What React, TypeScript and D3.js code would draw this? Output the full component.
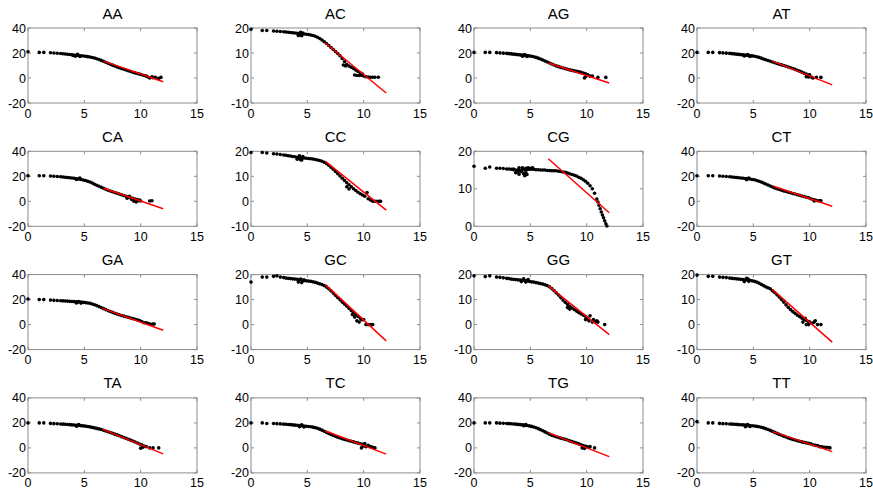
import React from "react";
import * as d3 from "d3";

// shared x positions of the dense part of every curve
const xGrid = [0, 1, 1.4, 2, 2.3, 2.6, 2.9, 3.1, 3.3, 3.5, 3.7, 3.9, 4.1, 4.3, 4.5, 4.7, 4.9, 5.1, 5.3, 5.5, 5.7, 5.9, 6.1, 6.3, 6.5, 6.7, 6.9, 7.1, 7.3, 7.5, 7.7, 7.9, 8.1, 8.3, 8.5, 8.7, 8.9, 9.1, 9.3, 9.5, 9.7, 9.9];
const xTicks = [0, 5, 10, 15];

const AA_y = [21, 20.5, 20.5, 20.2, 20, 19.8, 19.6, 19.4, 19.2, 19, 18.8, 18.6, 18.4, 18.2, 18, 17.8, 17.6, 17.4, 17.1, 16.8, 16.4, 16, 15.4, 14.8, 14.1, 13.4, 12.6, 11.8, 11, 10.3, 9.6, 8.9, 8.2, 7.6, 7, 6.4, 5.8, 5.2, 4.6, 4.1, 3.6, 3.1];
const AA_extra = [[4.2, 17.5], [4.4, 19], [4.6, 17.2], [4.0, 18], [10.1, 2.6], [10.3, 2], [10.5, 1.5], [10.6, 1], [10.8, 0], [11.0, 1], [11.1, 0.3], [11.3, 0.5], [11.6, -0.3], [11.8, 0.5]];
const AA_fit = [[6.7, 13.5], [12, -3]];

const AC_y = [19.5, 19, 19, 18.8, 18.7, 18.6, 18.5, 18.4, 18.3, 18.2, 18.1, 18, 17.9, 17.8, 17.7, 17.6, 17.5, 17.4, 17.2, 17, 16.7, 16.3, 15.8, 15.2, 14.5, 13.8, 13, 12.2, 11.4, 10.6, 9.8, 8.9, 7.8, 6.6, 5.5, 4.8, 4.3, 3.8, 3.2, 2.6, 2.1, 1.6];
const AC_extra = [[4.2, 17], [4.4, 18.3], [4.5, 16.9], [4.6, 18], [4.3, 17.2], [8.2, 5.2], [8.4, 4.8], [9.2, 1.2], [9.4, 1], [9.6, 1], [9.8, 1.1], [10, 0.8], [10.2, 0.5], [10.4, 0.4], [10.6, 0.3], [10.8, 0.3], [11, 0.3], [11.3, 0.3]];
const AC_fit = [[6.6, 14], [12, -6]];

const AG_y = [20.5, 20.5, 20.5, 20.3, 20.1, 19.9, 19.7, 19.5, 19.3, 19.1, 18.9, 18.7, 18.5, 18.3, 18.1, 17.9, 17.7, 17.4, 17, 16.5, 15.9, 15.2, 14.4, 13.6, 12.8, 12, 11.2, 10.4, 9.7, 9.1, 8.5, 8, 7.5, 7, 6.5, 6.1, 5.7, 5.3, 4.9, 4.5, 4, 3.3];
const AG_extra = [[4.3, 17.5], [4.5, 18.8], [4.7, 17.3], [9.4, 4.5], [9.8, 0], [9.9, 1], [10.1, 2.5], [10.3, 1.5], [10.5, 1.5], [11, 0.5], [11.7, 0.5]];
const AG_fit = [[6.6, 12], [12, -4]];

const AT_y = [20.5, 20.5, 20.5, 20.3, 20.1, 19.9, 19.7, 19.5, 19.3, 19.1, 18.9, 18.7, 18.5, 18.3, 18.1, 17.9, 17.7, 17.4, 17, 16.5, 15.9, 15.2, 14.6, 14, 13.4, 12.8, 12.2, 11.6, 11, 10.5, 10, 9.4, 8.8, 8.2, 7.6, 6.9, 6.2, 5.5, 4.7, 3.9, 3.1, 2.4];
const AT_extra = [[4.2, 17.6], [4.5, 18.8], [4.7, 17.3], [9.7, 1], [9.9, 0.8], [10, 2.5], [10.2, 0.5], [10.3, 0], [10.6, 0.5], [11, 0.5]];
const AT_fit = [[6.7, 13.5], [12, -5.5]];

const CA_y = [20.5, 20.5, 20.5, 20.2, 20, 19.8, 19.6, 19.4, 19.2, 19, 18.8, 18.6, 18.4, 18.1, 17.8, 17.5, 17.1, 16.6, 16.1, 15.4, 14.6, 13.7, 12.8, 12, 11.2, 10.4, 9.6, 8.9, 8.3, 7.7, 7.1, 6.5, 5.9, 5.3, 4.7, 4.1, 3.5, 2.9, 2.4, 1.9, 1.4, 1.0];
const CA_extra = [[4.3, 17.4], [4.6, 18.6], [8.8, 2.5], [9.0, 4], [9.2, 1.5], [9.4, 0], [9.6, -0.5], [9.8, 0.5], [10, 0.2], [10.8, 0.3], [11, 0.5]];
const CA_fit = [[6.7, 10.5], [12, -6]];

const CC_y = [19.5, 19.5, 19.3, 19, 18.9, 18.7, 18.5, 18.4, 18.2, 18.1, 17.9, 17.8, 17.6, 17.5, 17.4, 17.3, 17.2, 17.1, 17, 16.9, 16.7, 16.5, 16.3, 16, 15.6, 15.1, 14.4, 13.6, 12.8, 11.9, 11, 10.1, 9.2, 8.3, 7.4, 6.6, 5.8, 5, 4.3, 3.6, 3, 2.5];
const CC_extra = [[4.1, 16.8], [4.3, 18.2], [4.4, 16.6], [4.6, 17.9], [4.5, 16.5], [8.5, 5.8], [8.7, 4.9], [10.1, 2], [10.3, 3.5], [10.4, 1], [10.6, 0.5], [10.8, 0], [11, 0], [11.2, 0], [11.4, 0], [11.5, 0]];
const CC_fit = [[6.6, 16], [12, -3.5]];

const CG_y = [16, 15.5, 15.8, 15.5, 15.5, 15.4, 15.3, 15.3, 15.2, 15.1, 15, 15, 14.9, 15, 15, 15.1, 15.2, 15.2, 15.2, 15.1, 15.1, 15, 15, 15, 14.9, 14.9, 14.8, 14.8, 14.8, 14.7, 14.6, 14.5, 14.4, 14.2, 14, 13.8, 13.6, 13.4, 13.1, 12.8, 12.4, 12];
const CG_extra = [[3.5, 15.3], [3.7, 14.3], [3.9, 14.5], [4.0, 13.9], [4.2, 14.6], [4.4, 14], [4.5, 13.5], [4.6, 14.3], [4.7, 13.8], [4.0, 15.6], [4.3, 15.6], [4.6, 15.5], [4.8, 15.6], [5.0, 15.5], [5.2, 15.6], [10.1, 11.5], [10.3, 10.8], [10.5, 10], [10.7, 8.8], [10.9, 7.3], [11.0, 6.5], [11.1, 5.6], [11.2, 4.7], [11.3, 3.8], [11.4, 3], [11.5, 2.3], [11.6, 1.5], [11.7, 0.7], [11.8, 0.1]];
const CG_fit = [[6.6, 18], [12, 3.6]];

const CT_y = [20.5, 20.5, 20.5, 20.2, 20, 19.8, 19.6, 19.4, 19.2, 19, 18.8, 18.6, 18.4, 18.2, 18, 17.8, 17.5, 17.2, 16.7, 16.1, 15.4, 14.6, 13.8, 13, 12.2, 11.4, 10.7, 10, 9.4, 8.8, 8.3, 7.8, 7.3, 6.8, 6.3, 5.8, 5.3, 4.8, 4.3, 3.8, 3.3, 2.8];
const CT_extra = [[4.4, 17.3], [4.6, 18.6], [10.1, 2], [10.3, 1.5], [10.5, 1], [10.7, 0.5], [10.9, 0.5], [11, 0.5], [10.4, 0.2]];
const CT_fit = [[6.8, 12], [12, -4]];

const GA_y = [20.5, 20, 20, 19.6, 19.4, 19.3, 19.1, 19, 18.9, 18.8, 18.6, 18.5, 18.4, 18.3, 18.1, 18, 17.8, 17.6, 17.3, 17, 16.5, 15.9, 15.2, 14.4, 13.6, 12.8, 12, 11.2, 10.5, 9.8, 9.1, 8.5, 7.9, 7.3, 6.8, 6.3, 5.8, 5.3, 4.8, 4.3, 3.8, 3.3];
const GA_extra = [[4.3, 17.3], [4.5, 18.5], [4.7, 17.2], [10.1, 2.5], [10.3, 1.5], [10.5, 1.5], [10.7, 0.8], [10.9, 0.3], [11.1, 0.5], [11.2, 0.5]];
const GA_fit = [[6.6, 13], [12, -4.5]];

const GC_y = [17, 19, 19, 19.3, 19.5, 19, 18.8, 18.6, 18.5, 18.4, 18.3, 18.2, 18.1, 17.9, 17.8, 17.6, 17.5, 17.4, 17.3, 17.1, 16.9, 16.6, 16.3, 16, 15.6, 15, 14.3, 13.5, 12.6, 11.7, 10.8, 9.9, 9, 8.2, 7.4, 6.5, 5.6, 4.8, 4, 3.3, 2.6, 2];
const GC_extra = [[4.2, 17], [4.4, 18.2], [4.5, 16.8], [4.7, 17.9], [9.0, 4], [9.2, 3], [9.4, 1.5], [9.6, 1], [9.8, 2], [10.0, 2], [10.2, 0], [10.4, 0], [10.6, 0], [10.8, 0]];
const GC_fit = [[6.6, 16], [12, -6.5]];

const GG_y = [19.5, 19.2, 19.5, 19, 18.9, 18.7, 18.5, 18.4, 18.2, 18.1, 18, 17.9, 17.8, 17.7, 17.6, 17.5, 17.3, 17.1, 17, 16.8, 16.6, 16.4, 16.2, 15.9, 15.6, 15.1, 14.4, 13.6, 12.7, 11.8, 10.8, 9.8, 8.9, 8.1, 7.3, 6.6, 6, 5.4, 4.8, 4.3, 3.8, 3.3];
const GG_extra = [[4.2, 17.2], [4.4, 18.3], [4.6, 17], [4.8, 18], [8.3, 6.8], [8.5, 6.2], [9.9, 2], [10.1, 2.5], [10.2, 1.5], [10.3, 3.5], [10.5, 1], [10.6, 2], [10.8, 1], [10.9, 1.5], [11.0, 1], [11.6, 0]];
const GG_fit = [[6.6, 15.5], [12, -4]];

const GT_y = [19.8, 19.3, 19.3, 19, 18.9, 18.8, 18.6, 18.5, 18.4, 18.3, 18.2, 18.1, 18, 17.9, 17.8, 17.7, 17.5, 17.3, 17, 16.6, 16.1, 15.6, 15.1, 14.7, 14.3, 13.5, 12.8, 11.9, 11, 10, 9, 7.9, 6.9, 6, 5.2, 4.5, 3.8, 3.2, 2.6, 2.1, 1.7, 1.2];
const GT_extra = [[4.2, 17.2], [4.4, 18.5], [4.6, 17.3], [4.5, 18.3], [9.4, 1], [9.6, 2.5], [9.7, 0], [9.9, 0], [10, 1], [10.2, 0.5], [10.4, 1], [10.5, 1.5], [10.7, 0], [11, 0]];
const GT_fit = [[6.7, 14], [12, -7]];

const TA_y = [20, 20, 20, 19.6, 19.4, 19.3, 19.1, 19, 18.9, 18.7, 18.6, 18.4, 18.3, 18.1, 18, 17.8, 17.6, 17.4, 17.1, 16.8, 16.4, 16, 15.6, 15.2, 14.7, 14.1, 13.5, 12.9, 12.3, 11.7, 11, 10.4, 9.7, 9, 8.3, 7.6, 6.9, 6.2, 5.5, 4.7, 3.9, 3.1];
const TA_extra = [[4.3, 17.3], [4.5, 18.6], [10.0, -0.2], [10.1, 2.5], [10.2, 0.5], [10.3, 1.5], [10.5, 1], [10.8, 0], [11.1, 0], [11.6, 0]];
const TA_fit = [[6.6, 15], [12, -4.8]];

const TC_y = [20, 20, 19.5, 19.5, 19.4, 19.2, 19, 18.9, 18.7, 18.6, 18.4, 18.2, 18.1, 17.9, 17.7, 17.5, 17.3, 17.1, 16.9, 16.6, 16.2, 15.7, 15, 14.2, 13.3, 12.4, 11.6, 10.8, 10, 9.3, 8.6, 8, 7.4, 6.8, 6.3, 5.8, 5.3, 4.8, 4.3, 3.8, 3.3, 2.9];
const TC_extra = [[4.3, 17], [4.5, 18.4], [4.7, 16.8], [9.8, 0], [10, 1.5], [10.1, 3.5], [10.2, 1], [10.4, 2], [10.6, 1], [10.8, 0.5], [11, 0]];
const TC_fit = [[6.6, 13.5], [12, -5]];

const TG_y = [20, 20, 20, 20, 19.8, 19.7, 19.5, 19.4, 19.3, 19.1, 19, 18.8, 18.6, 18.4, 18.2, 17.9, 17.6, 17.2, 16.7, 16.1, 15.4, 14.6, 13.7, 12.8, 11.9, 11, 10.2, 9.5, 8.9, 8.3, 7.8, 7.3, 6.8, 6.3, 5.6, 5, 4.4, 3.8, 3.2, 2.5, 1.8, 1.2];
const TG_extra = [[4.4, 17.8], [4.6, 18.6], [9.6, 0], [9.8, -0.5], [10, 1], [10.2, 0.5], [10.3, 1], [10.7, 0]];
const TG_fit = [[6.6, 12], [12, -7]];

const TT_y = [21, 20, 20, 19.6, 19.4, 19.3, 19.1, 19, 18.9, 18.8, 18.6, 18.5, 18.4, 18.2, 18, 17.9, 17.7, 17.5, 17.2, 16.9, 16.5, 16, 15.4, 14.7, 14, 13.2, 12.4, 11.6, 10.8, 10.1, 9.4, 8.7, 8, 7.4, 6.8, 6.3, 5.8, 5.3, 4.8, 4.4, 4, 3.6];
const TT_extra = [[4.3, 17], [4.5, 18.6], [4.7, 17.2], [10.1, 3.2], [10.3, 2.5], [10.5, 2], [10.7, 1.8], [10.9, 1], [11.1, 0.8], [11.3, 0.5], [11.5, 0.5], [11.7, 0.3], [11.8, 0]];
const TT_fit = [[6.7, 13], [12, -3]];

const wideTicks = [-20, 0, 20, 40];
const midTicks = [-10, 0, 10, 20];
const cgTicks = [0, 10, 20];

const panels = [
  { name: "AA", ticks: wideTicks, ys: AA_y, extra: AA_extra, fit: AA_fit },
  { name: "AC", ticks: midTicks, ys: AC_y, extra: AC_extra, fit: AC_fit },
  { name: "AG", ticks: wideTicks, ys: AG_y, extra: AG_extra, fit: AG_fit },
  { name: "AT", ticks: wideTicks, ys: AT_y, extra: AT_extra, fit: AT_fit },
  { name: "CA", ticks: wideTicks, ys: CA_y, extra: CA_extra, fit: CA_fit },
  { name: "CC", ticks: midTicks, ys: CC_y, extra: CC_extra, fit: CC_fit },
  { name: "CG", ticks: cgTicks, ys: CG_y, extra: CG_extra, fit: CG_fit },
  { name: "CT", ticks: wideTicks, ys: CT_y, extra: CT_extra, fit: CT_fit },
  { name: "GA", ticks: wideTicks, ys: GA_y, extra: GA_extra, fit: GA_fit },
  { name: "GC", ticks: midTicks, ys: GC_y, extra: GC_extra, fit: GC_fit },
  { name: "GG", ticks: midTicks, ys: GG_y, extra: GG_extra, fit: GG_fit },
  { name: "GT", ticks: midTicks, ys: GT_y, extra: GT_extra, fit: GT_fit },
  { name: "TA", ticks: wideTicks, ys: TA_y, extra: TA_extra, fit: TA_fit },
  { name: "TC", ticks: wideTicks, ys: TC_y, extra: TC_extra, fit: TC_fit },
  { name: "TG", ticks: wideTicks, ys: TG_y, extra: TG_extra, fit: TG_fit },
  { name: "TT", ticks: wideTicks, ys: TT_y, extra: TT_extra, fit: TT_fit },
];

const W = 873;
const H = 493;
const FONT = "'Liberation Sans', Arial, Helvetica, sans-serif";

function Panel({ p, i }: { p: any; i: number }) {
  const c = i % 4;
  const r = Math.floor(i / 4);
  const left = 28 + c * 223;
  const top = 28 + r * 123.3;
  const w = 169;
  const h = 75;
  const x = d3.scaleLinear().domain([0, 15]).range([left, left + w]);
  const t: number[] = p.ticks;
  const y = d3.scaleLinear().domain([t[0], t[t.length - 1]]).range([top + h, top]);
  const pts: number[][] = xGrid.map((xv, k) => [xv, p.ys[k]]).concat(p.extra);
  const line = d3.line<number[]>().x((d) => x(d[0])).y((d) => y(d[1]));
  const axisCol = "#8c8c8c";
  const tl = 3;
  return (
    <g>
      <text x={left + w / 2} y={top - 9.5} textAnchor="middle" fontSize={15} fontFamily={FONT} fill="#000">
        {p.name}
      </text>
      <rect x={left} y={top} width={w} height={h} fill="#fff" stroke={axisCol} strokeWidth={1} />
      {xTicks.map((v) => (
        <g key={"x" + v}>
          <line x1={x(v)} x2={x(v)} y1={top + h} y2={top + h - tl} stroke={axisCol} />
          <line x1={x(v)} x2={x(v)} y1={top} y2={top + tl} stroke={axisCol} />
          <text x={x(v)} y={top + h + 14.5} textAnchor="middle" fontSize={12.5} fontFamily={FONT} fill="#000">
            {v}
          </text>
        </g>
      ))}
      {t.map((v) => (
        <g key={"y" + v}>
          <line x1={left} x2={left + tl} y1={y(v)} y2={y(v)} stroke={axisCol} />
          <line x1={left + w} x2={left + w - tl} y1={y(v)} y2={y(v)} stroke={axisCol} />
          <text x={left - 2} y={y(v)} dy="0.36em" textAnchor="end" fontSize={12.5} fontFamily={FONT} fill="#000">
            {v}
          </text>
        </g>
      ))}
      {pts.map((d, k) => (
        <circle key={k} cx={x(d[0])} cy={y(d[1])} r={1.8} fill="#000" />
      ))}
      <path d={line(p.fit) || ""} stroke="#ff0000" strokeWidth={1.5} fill="none" />
    </g>
  );
}

export default function App() {
  return (
    <svg width={W} height={H} style={{ position: "absolute", left: 0, top: 0, background: "#fff" }}>
      <rect width={W} height={H} fill="#fff" />
      {panels.map((p, i) => (
        <Panel key={p.name} p={p} i={i} />
      ))}
    </svg>
  );
}
